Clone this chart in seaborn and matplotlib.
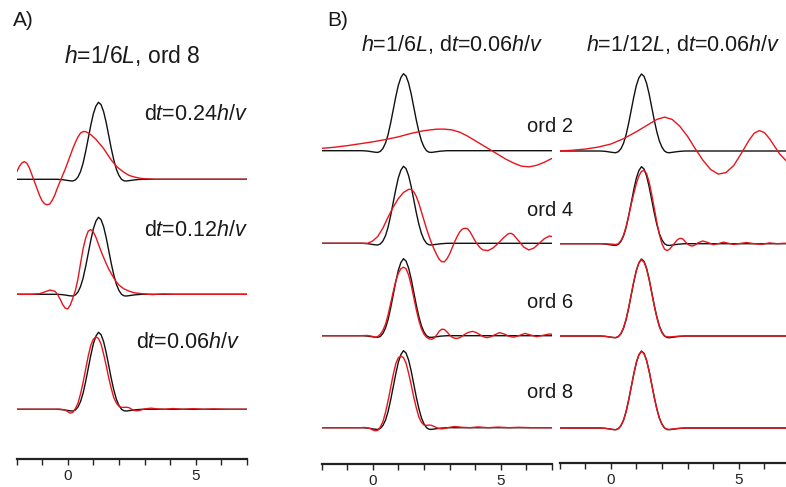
import numpy as np
import pandas as pd
import matplotlib
matplotlib.use("Agg")
import matplotlib.pyplot as plt
import seaborn as sns

# ---------------------------------------------------------------- data
# reference pulse (black), the same in every trace
ref_t = [-2.0, -0.4, -0.2, 0.0, 0.1, 0.2, 0.3, 0.4, 0.5, 0.6, 0.7, 0.8, 0.9, 1.0, 1.1, 1.2, 1.3,
         1.4, 1.5, 1.6, 1.7, 1.8, 1.9, 2.0, 2.1, 2.2, 2.3, 2.45, 2.65, 2.9, 7.0]
ref_u = [0.0, 0.0, -0.005, -0.015, -0.02, -0.022, -0.008, 0.03, 0.10, 0.21, 0.36, 0.53, 0.70, 0.85,
         0.95, 1.0, 0.97, 0.88, 0.74, 0.57, 0.40, 0.25, 0.13, 0.05, 0.0, -0.02, -0.022, -0.015,
         -0.006, 0.0, 0.0]

# A) h=1/6L, ord 8 -- numerical pulses for three time steps
a24_t = [-2.0, -1.9, -1.8, -1.7, -1.6, -1.5, -1.4, -1.3, -1.2, -1.1, -1.0, -0.9, -0.8, -0.7, -0.6,
         -0.5, -0.4, -0.3, -0.2, -0.1, 0.0, 0.1, 0.2, 0.3, 0.4, 0.5, 0.6, 0.7, 0.8, 0.9, 1.0, 1.1,
         1.2, 1.3, 1.4, 1.5, 1.6, 1.7, 1.8, 1.9, 2.0, 2.2, 2.4, 2.6, 2.8, 3.0, 3.4, 7.0]
a24_u = [0.09, 0.16, 0.21, 0.23, 0.21, 0.15, 0.06, -0.03, -0.12, -0.21, -0.28, -0.32, -0.33, -0.32,
         -0.27, -0.20, -0.11, -0.03, 0.05, 0.13, 0.22, 0.31, 0.40, 0.48, 0.55, 0.60, 0.62, 0.62,
         0.60, 0.58, 0.55, 0.52, 0.48, 0.44, 0.40, 0.35, 0.30, 0.25, 0.21, 0.17, 0.14, 0.09, 0.05,
         0.03, 0.015, 0.007, 0.0, 0.0]

a12_t = [-2.0, -1.4, -1.1, -0.9, -0.7, -0.5, -0.4, -0.3, -0.2, -0.1, 0.0, 0.1, 0.2, 0.3, 0.4, 0.5,
         0.6, 0.7, 0.8, 0.9, 1.0, 1.1, 1.2, 1.3, 1.4, 1.5, 1.6, 1.7, 1.8, 1.9, 2.0, 2.2, 2.4, 2.6,
         2.8, 3.0, 3.3, 3.7, 4.2, 7.0]
a12_u = [0.0, 0.0, 0.008, 0.03, 0.055, 0.04, 0.0, -0.06, -0.13, -0.18, -0.19, -0.14, -0.05, 0.05,
         0.2, 0.4, 0.59, 0.73, 0.82, 0.84, 0.81, 0.74, 0.65, 0.56, 0.48, 0.40, 0.33, 0.27, 0.21,
         0.16, 0.12, 0.07, 0.04, 0.02, 0.012, 0.005, -0.004, 0.004, 0.0, 0.0]

a06_t = [-2.0, -0.5, -0.3, -0.1, 0.0, 0.1, 0.2, 0.3, 0.4, 0.5, 0.6, 0.7, 0.8, 0.9, 1.0, 1.1, 1.2,
         1.3, 1.4, 1.5, 1.6, 1.7, 1.8, 1.9, 2.0, 2.1, 2.2, 2.3, 2.4, 2.5, 2.6, 2.7, 2.8, 3.0, 3.25,
         3.5, 3.8, 4.1, 4.5, 4.9, 5.3, 5.7, 6.2, 7.0]
a06_u = [0.0, 0.0, 0.002, -0.01, -0.03, -0.05, -0.04, 0.01, 0.08, 0.2, 0.35, 0.52, 0.69, 0.83,
         0.91, 0.94, 0.92, 0.85, 0.72, 0.57, 0.41, 0.27, 0.15, 0.08, 0.04, 0.025, 0.025, 0.027,
         0.02, 0.0, -0.015, -0.02, -0.015, 0.005, 0.015, 0.005, 0.0, 0.01, 0.0, 0.008, 0.0, 0.005,
         0.0, 0.0]

# B) dt=0.06h/v, operator order 2..8, for h=1/6L (left) and h=1/12L (right)
b2l_t = [-2.0, -1.5, -1.0, -0.5, 0.0, 0.5, 1.0, 1.5, 2.0, 2.5, 2.8, 3.1, 3.4, 3.7, 4.0, 4.3, 4.6,
         4.9, 5.2, 5.5, 5.8, 6.1, 6.4, 6.7, 7.0]
b2l_u = [0.03, 0.045, 0.065, 0.09, 0.115, 0.145, 0.18, 0.225, 0.26, 0.28, 0.28, 0.27, 0.24, 0.19,
         0.13, 0.07, 0.01, -0.05, -0.11, -0.16, -0.2, -0.21, -0.19, -0.15, -0.1]

b2r_t = [-2.0, -1.5, -1.0, -0.5, 0.0, 0.5, 1.0, 1.5, 1.8, 2.1, 2.4, 2.7, 3.0, 3.3, 3.6, 3.9, 4.2,
         4.5, 4.8, 5.1, 5.4, 5.6, 5.8, 6.0, 6.2, 6.4, 6.6, 6.8, 7.0]
b2r_u = [0.0, 0.01, 0.025, 0.05, 0.09, 0.16, 0.25, 0.35, 0.41, 0.44, 0.41, 0.32, 0.19, 0.03, -0.12,
         -0.24, -0.3, -0.28, -0.19, -0.03, 0.14, 0.23, 0.265, 0.24, 0.16, 0.06, -0.04, -0.11, -0.17]

b4l_t = [-2.0, -0.2, 0.0, 0.2, 0.4, 0.6, 0.8, 1.0, 1.2, 1.4, 1.5, 1.6, 1.7, 1.8, 1.9, 2.0, 2.1,
         2.2, 2.3, 2.4, 2.5, 2.6, 2.7, 2.8, 2.9, 3.0, 3.1, 3.2, 3.3, 3.4, 3.5, 3.6, 3.7, 3.8, 3.9,
         4.0, 4.1, 4.2, 4.3, 4.5, 4.7, 4.9, 5.1, 5.3, 5.4, 5.5, 5.7, 5.9, 6.1, 6.3, 6.5, 6.7, 6.9,
         7.0]
b4l_u = [0.0, 0.0, 0.03, 0.09, 0.2, 0.34, 0.47, 0.58, 0.66, 0.70, 0.70, 0.67, 0.61, 0.52, 0.41,
         0.30, 0.19, 0.09, 0.0, -0.08, -0.15, -0.21, -0.24, -0.24, -0.2, -0.14, -0.06, 0.02, 0.09,
         0.15, 0.185, 0.195, 0.19, 0.15, 0.09, 0.03, -0.02, -0.06, -0.085, -0.095, -0.06, 0.0,
         0.07, 0.125, 0.13, 0.11, 0.03, -0.05, -0.087, -0.06, 0.0, 0.06, 0.095, 0.087]

b4r_t = [-2.0, -0.3, 0.0, 0.2, 0.3, 0.4, 0.5, 0.6, 0.7, 0.8, 0.9, 1.0, 1.1, 1.2, 1.3, 1.4, 1.5,
         1.6, 1.7, 1.8, 1.9, 2.0, 2.1, 2.2, 2.3, 2.4, 2.5, 2.6, 2.7, 2.8, 2.9, 3.0, 3.1, 3.2, 3.3,
         3.4, 3.6, 3.8, 4.0, 4.2, 4.4, 4.6, 4.8, 5.0, 5.3, 5.6, 5.9, 6.2, 6.5, 6.8, 7.0]
b4r_u = [0.0, 0.0, -0.005, -0.01, 0.0, 0.04, 0.11, 0.22, 0.36, 0.51, 0.65, 0.78, 0.88, 0.94, 0.95,
         0.91, 0.80, 0.64, 0.46, 0.28, 0.12, 0.0, -0.07, -0.09, -0.07, -0.03, 0.01, 0.05, 0.07,
         0.065, 0.03, -0.005, -0.025, -0.03, -0.015, 0.01, 0.035, 0.015, -0.012, 0.0, 0.02, 0.005,
         -0.01, 0.0, 0.015, 0.0, -0.008, 0.01, 0.0, 0.006, 0.0]

b6l_t = [-2.0, -0.5, -0.2, 0.0, 0.1, 0.2, 0.3, 0.4, 0.5, 0.6, 0.7, 0.8, 0.9, 1.0, 1.1, 1.2, 1.3,
         1.4, 1.5, 1.6, 1.7, 1.8, 1.9, 2.0, 2.1, 2.2, 2.3, 2.4, 2.5, 2.6, 2.7, 2.8, 2.9, 3.0, 3.1,
         3.2, 3.3, 3.4, 3.5, 3.6, 3.75, 3.9, 4.05, 4.2, 4.3, 4.45, 4.6, 4.75, 4.95, 5.15, 5.3,
         5.5, 5.7, 5.95, 6.15, 6.4, 6.65, 6.9, 7.0]
b6l_u = [0.0, 0.0, 0.003, -0.01, -0.02, -0.01, 0.02, 0.07, 0.15, 0.27, 0.42, 0.57, 0.71, 0.81,
         0.87, 0.89, 0.87, 0.79, 0.66, 0.50, 0.34, 0.20, 0.09, 0.02, -0.02, -0.04, -0.047, -0.03,
         0.01, 0.06, 0.085, 0.08, 0.05, 0.01, -0.02, -0.033, -0.035, -0.025, -0.005, 0.02, 0.045,
         0.056, 0.04, 0.01, -0.01, -0.026, -0.015, 0.01, 0.039, 0.02, -0.005, -0.02, 0.0, 0.03,
         0.01, -0.013, 0.005, 0.022, 0.018]

b6r_t = ref_t
b6r_u = [0.0, 0.0, -0.005, -0.015, -0.02, -0.02, -0.005, 0.035, 0.11, 0.22, 0.37, 0.54, 0.71,
         0.85, 0.95, 0.99, 0.96, 0.87, 0.73, 0.56, 0.39, 0.24, 0.12, 0.04, 0.0, -0.01, -0.012,
         -0.008, -0.003, 0.0, 0.0]

b8l_t = [-2.0, -0.5, -0.3, -0.1, 0.0, 0.1, 0.2, 0.3, 0.4, 0.5, 0.6, 0.7, 0.8, 0.9, 1.0, 1.1, 1.2,
         1.3, 1.4, 1.5, 1.6, 1.7, 1.8, 1.9, 2.0, 2.1, 2.2, 2.3, 2.4, 2.5, 2.6, 2.7, 2.8, 3.0, 3.2,
         3.5, 3.8, 4.1, 4.5, 4.9, 5.3, 5.7, 6.2, 7.0]
b8l_u = [0.0, 0.0, 0.003, -0.01, -0.03, -0.04, -0.035, 0.01, 0.08, 0.2, 0.35, 0.52, 0.69, 0.83,
         0.91, 0.93, 0.91, 0.84, 0.71, 0.56, 0.40, 0.26, 0.14, 0.07, 0.035, 0.03, 0.035, 0.03,
         0.015, 0.0, -0.012, -0.015, -0.01, 0.005, 0.015, 0.005, 0.0, 0.01, 0.0, 0.008, 0.0,
         0.005, 0.0, 0.0]

b8r_t = ref_t
b8r_u = [0.0, 0.0, -0.005, -0.015, -0.02, -0.022, -0.006, 0.033, 0.105, 0.215, 0.365, 0.535, 0.70,
         0.85, 0.95, 0.995, 0.965, 0.875, 0.735, 0.565, 0.395, 0.245, 0.125, 0.045, 0.0, -0.015,
         -0.018, -0.012, -0.005, 0.0, 0.0]

a_labels = [r"d$t$=0.24$h$/$v$", r"d$t$=0.12$h$/$v$", r"d$t$=0.06$h$/$v$"]
b_labels = ["ord 2", "ord 4", "ord 6", "ord 8"]
tick_values = list(range(-2, 8))
tick_labels = ["" if v not in (0, 5) else str(v) for v in tick_values]

# ---------------------------------------------------------------- style
sns.set_theme(style="ticks")
plt.rcParams["font.family"] = ["Liberation Sans", "DejaVu Sans"]
plt.rcParams["mathtext.fontset"] = "custom"
plt.rcParams["mathtext.rm"] = "Liberation Sans"
plt.rcParams["mathtext.it"] = "Liberation Sans:italic"
plt.rcParams["mathtext.bf"] = "Liberation Sans:bold"

W, H = 786, 487
UNIT = 77.0          # pixels per unit of pulse amplitude
BLACK = "#111111"
RED = "#e8141c"
LW = 1.0

fig = plt.figure(figsize=(W / 100, H / 100), dpi=100)


def make_axes(x0, x1, ybot, ytop):
    ax = fig.add_axes([x0 / W, 1 - ybot / H, (x1 - x0) / W, (ybot - ytop) / H])
    ax.set_xlim(-2, 7)
    ax.set_ylim(0, (ybot - ytop) / UNIT)
    for side in ("left", "right", "top"):
        ax.spines[side].set_visible(False)
    ax.spines["bottom"].set_linewidth(1.6)
    ax.spines["bottom"].set_color("#222222")
    ax.set_yticks([])
    ax.set_xticks(tick_values)
    ax.set_xticklabels(tick_labels)
    ax.tick_params(axis="x", direction="out", length=4, width=1.0, pad=3.5,
                   labelsize=11, colors="#222222")
    return ax


def trace(ax, t, u, off, color):
    df = pd.DataFrame({"t": t, "y": np.asarray(u) + off})
    sns.lineplot(data=df, x="t", y="y", ax=ax, color=color, lw=LW,
                 estimator=None, sort=False, legend=False)


def ftext(x, y, s, size, **kw):
    fig.text(x / W, 1 - y / H, s, color="#1a1a1a", fontsize=size, **kw)


# ---- panel A
axA_bot = 459
axA = make_axes(16.5, 247, axA_bot, 40)
a_base = [179.3, 294.3, 409.3]
a_red = [(a24_t, a24_u), (a12_t, a12_u), (a06_t, a06_u)]
for b, (t, u) in zip(a_base, a_red):
    off = (axA_bot - b) / UNIT
    trace(axA, ref_t, ref_u, off, BLACK)
    trace(axA, t, u, off, RED)

# ---- panel B
axBL_bot, axBR_bot = 464, 463
axBL = make_axes(321.5, 552, axBL_bot, 40)
axBR = make_axes(559.5, 790, axBR_bot, 40)
bl_base = [150.7, 243.3, 335.7, 427.7]
br_base = [151.0, 243.7, 336.0, 428.0]
bl_red = [(b2l_t, b2l_u), (b4l_t, b4l_u), (b6l_t, b6l_u), (b8l_t, b8l_u)]
br_red = [(b2r_t, b2r_u), (b4r_t, b4r_u), (b6r_t, b6r_u), (b8r_t, b8r_u)]
for b, (t, u) in zip(bl_base, bl_red):
    off = (axBL_bot - b) / UNIT
    trace(axBL, ref_t, ref_u, off, BLACK)
    trace(axBL, t, u, off, RED)
for b, (t, u) in zip(br_base, br_red):
    off = (axBR_bot - b) / UNIT
    trace(axBR, ref_t, ref_u, off, BLACK)
    trace(axBR, t, u, off, RED)
for ax in (axA, axBL, axBR):
    ax.set_xlabel("")
    ax.set_ylabel("")

# ---- annotations
ftext(13, 21, "A)", 15, ha="left", va="center")
ftext(327, 21, "B)", 15, ha="left", va="center")
ftext(132.5, 55, r"$h$=1/6$L$, ord 8", 16.5, ha="center", va="center")
for y, xr, s in zip([115, 230, 343], [248, 248, 240], a_labels):
    ftext(xr, y, s, 15.5, ha="right", va="center")
ftext(452.5, 44, r"$h$=1/6$L$, d$t$=0.06$h$/$v$", 15.5, ha="center", va="center")
ftext(683.5, 44, r"$h$=1/12$L$, d$t$=0.06$h$/$v$", 15.5, ha="center", va="center")
for y, s in zip([127, 210, 302, 393], b_labels):
    ftext(527, y, s, 14.5, ha="left", va="center")

fig.savefig("out.png", dpi=100)
